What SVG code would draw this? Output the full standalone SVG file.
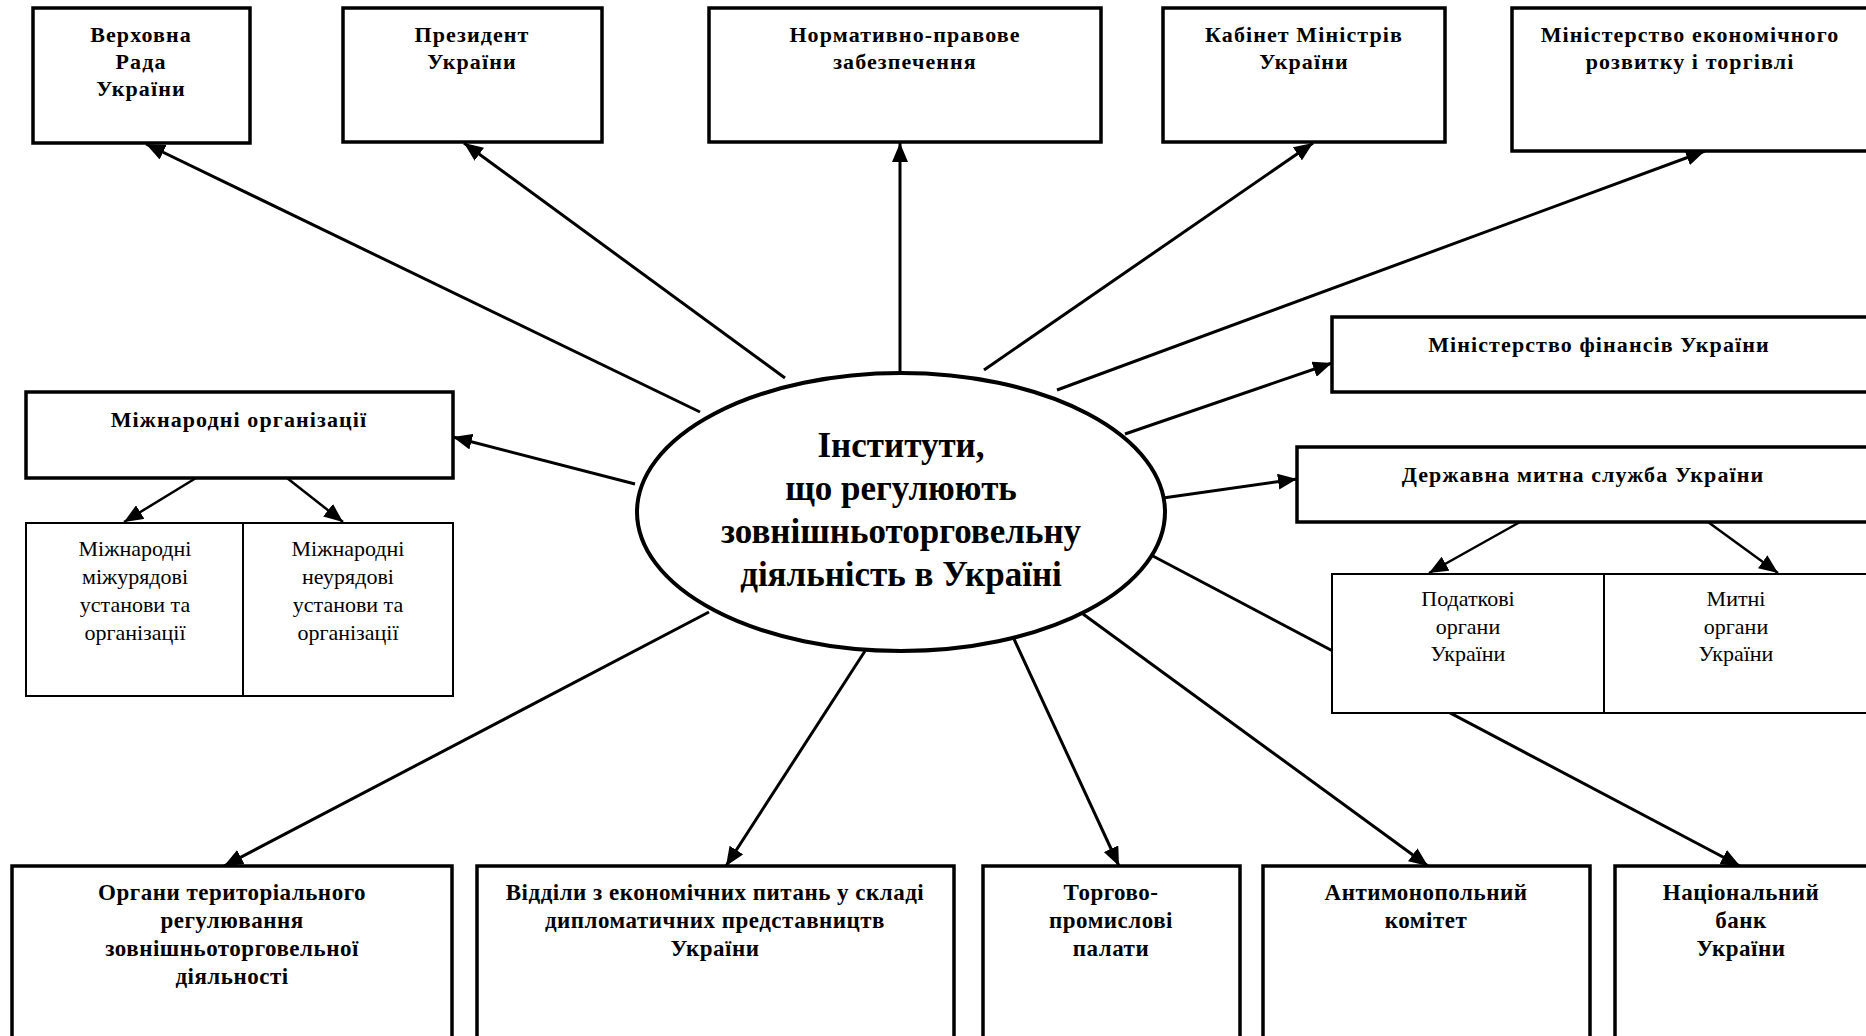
<svg xmlns="http://www.w3.org/2000/svg" width="1866" height="1036" viewBox="0 0 1866 1036">
<defs>
<style>
.box{fill:#fff;stroke:#000;stroke-width:3.5}
.sub{fill:#fff;stroke:#000;stroke-width:2}
.b{font-family:"Liberation Serif","Times New Roman",serif;font-weight:bold;font-size:22px;text-anchor:middle;fill:#000;letter-spacing:1.1px}
.bb{font-family:"Liberation Serif","Times New Roman",serif;font-weight:bold;font-size:23px;text-anchor:middle;fill:#000;letter-spacing:0.5px}
.r{font-family:"Liberation Serif","Times New Roman",serif;font-size:22px;text-anchor:middle;fill:#000}
.c{font-family:"Liberation Serif","Times New Roman",serif;font-weight:bold;font-size:35px;text-anchor:middle;fill:#000}
.ln{stroke:#000;stroke-width:3;fill:none;marker-end:url(#ah)}
.ln2{stroke:#000;stroke-width:2.5;fill:none;marker-end:url(#ah)}
</style>
<marker id="ah" markerUnits="userSpaceOnUse" markerWidth="20" markerHeight="16" refX="19" refY="8" orient="auto">
<path d="M0,0 L19,8 L0,16 Z" fill="#000"/>
</marker>
</defs>
<rect width="1866" height="1036" fill="#fff"/>

<g id="connectors">
<line class="ln" x1="1151" y1="555" x2="1740" y2="866"/>
<line class="ln" x1="700" y1="412" x2="146" y2="144"/>
<line class="ln" x1="785" y1="378" x2="464" y2="143"/>
<line class="ln" x1="900" y1="373" x2="900" y2="143"/>
<line class="ln" x1="984" y1="370" x2="1313" y2="143"/>
<line class="ln" x1="1057" y1="390" x2="1705" y2="151"/>
<line class="ln" x1="1125" y1="434" x2="1332" y2="363"/>
<line class="ln" x1="1163" y1="498" x2="1297" y2="479"/>
<line class="ln" x1="635" y1="484" x2="453" y2="437"/>
<line class="ln2" x1="196" y1="478" x2="124" y2="522"/>
<line class="ln2" x1="287" y1="478" x2="343" y2="522"/>
<line class="ln2" x1="1520" y1="522" x2="1429" y2="573"/>
<line class="ln2" x1="1708" y1="522" x2="1778" y2="573"/>
<line class="ln" x1="709" y1="612" x2="224" y2="866"/>
<line class="ln" x1="865" y1="651" x2="726" y2="866"/>
<line class="ln" x1="1014" y1="639" x2="1119" y2="866"/>
<line class="ln" x1="1083" y1="614" x2="1428" y2="866"/>
</g>

<g id="center">
<ellipse cx="901" cy="512" rx="264" ry="139" fill="#fff" stroke="#000" stroke-width="4"/>
<text class="c" x="901" y="457">Інститути,</text>
<text class="c" x="901" y="500">що регулюють</text>
<text class="c" x="901" y="543">зовнішньоторговельну</text>
<text class="c" x="901" y="586">діяльність в Україні</text>
</g>

<g id="verkhovna-rada">
<rect class="box" x="33" y="8" width="217" height="135"/>
<text class="b" x="141" y="42">Верховна</text>
<text class="b" x="141" y="69">Рада</text>
<text class="b" x="141" y="96">України</text>
</g>
<g id="president">
<rect class="box" x="343" y="8" width="259" height="134"/>
<text class="b" x="472" y="42">Президент</text>
<text class="b" x="472" y="69">України</text>
</g>
<g id="normatyvno">
<rect class="box" x="709" y="8" width="392" height="134"/>
<text class="b" x="905" y="42">Нормативно-правове</text>
<text class="b" x="905" y="69">забезпечення</text>
</g>
<g id="kabinet">
<rect class="box" x="1163" y="8" width="282" height="134"/>
<text class="b" x="1304" y="42">Кабінет Міністрів</text>
<text class="b" x="1304" y="69">України</text>
</g>
<g id="min-ekonomiky">
<rect class="box" x="1512" y="8" width="360" height="143"/>
<text class="b" x="1690" y="42">Міністерство економічного</text>
<text class="b" x="1690" y="69">розвитку і торгівлі</text>
</g>
<g id="min-finansiv">
<rect class="box" x="1332" y="317" width="540" height="75"/>
<text class="b" x="1599" y="352">Міністерство фінансів України</text>
</g>
<g id="mytna-sluzhba">
<rect class="box" x="1297" y="447" width="575" height="75"/>
<text class="b" x="1583" y="482">Державна митна служба України</text>
</g>
<g id="podatkovi-organy">
<rect class="sub" x="1332" y="574" width="272" height="139"/>
<text class="r" x="1468" y="606">Податкові</text>
<text class="r" x="1468" y="634">органи</text>
<text class="r" x="1468" y="661">України</text>
</g>
<g id="mytni-organy">
<rect class="sub" x="1604" y="574" width="268" height="139"/>
<text class="r" x="1736" y="606">Митні</text>
<text class="r" x="1736" y="634">органи</text>
<text class="r" x="1736" y="661">України</text>
</g>
<g id="mizhnarodni">
<rect class="box" x="26" y="392" width="427" height="86"/>
<text class="b" x="239" y="427">Міжнародні організації</text>
</g>
<g id="mizhuriadovi">
<rect class="sub" x="26" y="523" width="217" height="173"/>
<text class="r" x="135" y="556">Міжнародні</text>
<text class="r" x="135" y="584">міжурядові</text>
<text class="r" x="135" y="612">установи та</text>
<text class="r" x="135" y="640">організації</text>
</g>
<g id="neuriadovi">
<rect class="sub" x="243" y="523" width="210" height="173"/>
<text class="r" x="348" y="556">Міжнародні</text>
<text class="r" x="348" y="584">неурядові</text>
<text class="r" x="348" y="612">установи та</text>
<text class="r" x="348" y="640">організації</text>
</g>
<g id="organy-terytorialnoho">
<rect class="box" x="12" y="866" width="440" height="200"/>
<text class="bb" x="232" y="900">Органи територіального</text>
<text class="bb" x="232" y="928">регулювання</text>
<text class="bb" x="232" y="956">зовнішньоторговельної</text>
<text class="bb" x="232" y="984">діяльності</text>
</g>
<g id="viddily">
<rect class="box" x="477" y="866" width="477" height="200"/>
<text class="bb" x="715" y="900">Відділи з економічних питань у складі</text>
<text class="bb" x="715" y="928">дипломатичних представництв</text>
<text class="bb" x="715" y="956">України</text>
</g>
<g id="torhovo-promyslovi">
<rect class="box" x="983" y="866" width="257" height="200"/>
<text class="bb" x="1111" y="900">Торгово-</text>
<text class="bb" x="1111" y="928">промислові</text>
<text class="bb" x="1111" y="956">палати</text>
</g>
<g id="antymonopolnyi">
<rect class="box" x="1263" y="866" width="327" height="200"/>
<text class="bb" x="1426" y="900">Антимонопольний</text>
<text class="bb" x="1426" y="928">комітет</text>
</g>
<g id="natsbank">
<rect class="box" x="1615" y="866" width="257" height="200"/>
<text class="bb" x="1741" y="900">Національний</text>
<text class="bb" x="1741" y="928">банк</text>
<text class="bb" x="1741" y="956">України</text>
</g>
</svg>
